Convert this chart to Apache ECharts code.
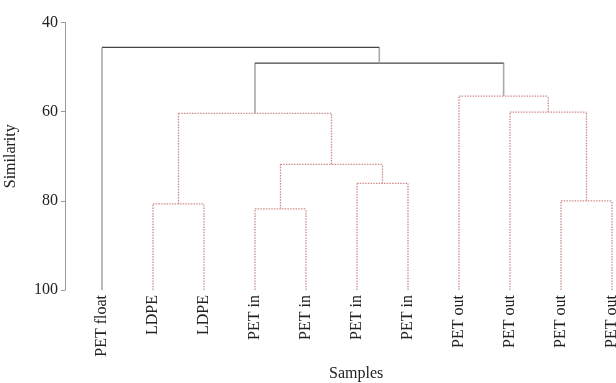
<!DOCTYPE html>
<html><head><meta charset="utf-8">
<script src="https://cdn.jsdelivr.net/npm/echarts@6/dist/echarts.min.js"></script>
<style>html,body{margin:0;padding:0;background:#fff}#c{width:616px;height:383px}</style>
</head><body><div id="c"></div>
<script>
// leaves (x order)
const leafLabels = ['PET float','LDPE','LDPE','PET in','PET in','PET in','PET in','PET out','PET out','PET out','PET out'];
// merges: node ids 0..10 are leaves, merge k creates node 11+k
const mergeLeft   = [1, 3, 5, 12, 11, 9, 8, 7, 15, 0];
const mergeRight  = [2, 4, 6, 13, 14, 10, 16, 17, 18, 19];
const mergeHeight = [80.7, 81.8, 76.1, 71.8, 60.4, 80.0, 60.1, 56.5, 49.1, 45.6];
const yTicks = [40, 60, 80, 100];
const leafHeight = 100;
const cutHeight = 50;

// compute node positions
const nodeX = leafLabels.map((_, i) => i);
const nodeH = leafLabels.map(() => leafHeight);
const links = [];
mergeLeft.forEach((l, k) => {
  const r = mergeRight[k], h = mergeHeight[k];
  const x = (nodeX[l] + nodeX[r]) / 2;
  links.push({xl: nodeX[l], hl: nodeH[l], xr: nodeX[r], hr: nodeH[r], h: h, top: h < cutHeight});
  nodeX.push(x); nodeH.push(h);
});

const segData = [];
links.forEach(L => {
  segData.push([L.xl, L.hl, L.xl, L.h, L.top ? 1 : 0, 0]);
  segData.push([L.xr, L.hr, L.xr, L.h, L.top ? 1 : 0, 0]);
  segData.push([L.xl, L.h, L.xr, L.h, L.top ? 1 : 0, 1]);
});

const FONT = 'Liberation Serif';
const TXT = '#222';
const chart = echarts.init(document.getElementById('c'));
chart.setOption({
  animation: false,
  grid: {left: 76.5, width: 561, top: 22.5, height: 267.5, outerBoundsMode: 'none', containLabel: false},
  xAxis: [{
    type: 'category', data: leafLabels, boundaryGap: true,
    axisLine: {show: false}, axisTick: {show: false},
    axisLabel: {rotate: 90, margin: 5, fontFamily: FONT, fontSize: 16, color: TXT, interval: 0}
  }, {
    type: 'value', min: -0.5, max: 10.5, show: false
  }],
  yAxis: {
    type: 'value', inverse: true, min: 40, max: 100, interval: 20, offset: 11.5,
    name: 'Similarity', nameLocation: 'middle', nameGap: 46, nameRotate: 90,
    nameTextStyle: {fontFamily: FONT, fontSize: 16, color: TXT},
    axisLine: {show: true, onZero: false, lineStyle: {color: '#999', width: 1}},
    axisTick: {show: true, length: 4, lineStyle: {color: '#999'}},
    axisLabel: {fontFamily: FONT, fontSize: 16, color: TXT, margin: 7,
      formatter: v => yTicks.includes(v) ? String(v) : ''},
    splitLine: {show: false}
  },
  graphic: [{
    type: 'text', left: 329, top: 366,
    style: {text: 'Samples', font: '16px "Liberation Serif"', fill: TXT}
  }],
  series: [{
    type: 'custom', xAxisIndex: 1, yAxisIndex: 0,
    data: segData,
    renderItem: function (params, api) {
      const p1 = api.coord([api.value(0), api.value(1)]);
      const p2 = api.coord([api.value(2), api.value(3)]);
      const top = api.value(4) === 1, horiz = api.value(5) === 1;
      let style;
      if (top) {
        style = horiz ? {stroke: '#444', lineWidth: 1.2} : {stroke: '#aaa', lineWidth: 1.6};
      } else {
        style = {stroke: '#d08c8c', lineWidth: 1.3, lineDash: [1.5, 1.2]};
      }
      return {type: 'line', shape: {x1: p1[0], y1: p1[1], x2: p2[0], y2: p2[1]}, style: style, silent: true};
    }
  }]
});
</script></body></html>
